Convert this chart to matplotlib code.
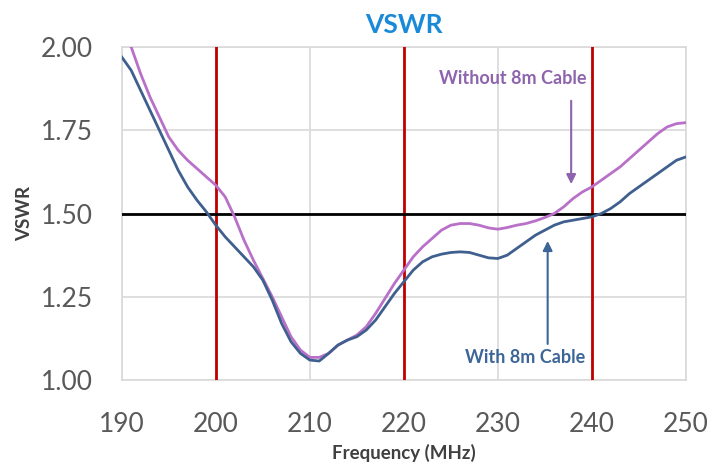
import matplotlib.pyplot as plt

# frequency axis (MHz)
freq = list(range(190, 251))

# VSWR with the 8 m cable (blue)
vswr_with = [1.97, 1.93, 1.87, 1.81, 1.75, 1.69, 1.63, 1.58, 1.54, 1.505,
             1.465, 1.43, 1.40, 1.37, 1.34, 1.30, 1.24, 1.17, 1.115, 1.08,
             1.06, 1.057, 1.08, 1.105, 1.12, 1.13, 1.15, 1.18, 1.22, 1.26,
             1.295, 1.33, 1.355, 1.37, 1.378, 1.383, 1.385, 1.383, 1.375, 1.367,
             1.365, 1.375, 1.395, 1.415, 1.435, 1.45, 1.465, 1.475, 1.48, 1.485,
             1.49, 1.50, 1.515, 1.535, 1.56, 1.58, 1.60, 1.62, 1.64, 1.66,
             1.67]

# VSWR without the 8 m cable (pink)
vswr_without = [2.03, 2.00, 1.92, 1.85, 1.79, 1.73, 1.69, 1.66, 1.635, 1.61,
                1.585, 1.55, 1.49, 1.42, 1.36, 1.305, 1.25, 1.19, 1.13, 1.09,
                1.068, 1.068, 1.08, 1.105, 1.12, 1.135, 1.16, 1.20, 1.245, 1.29,
                1.33, 1.37, 1.40, 1.425, 1.45, 1.465, 1.47, 1.47, 1.465, 1.457,
                1.453, 1.458, 1.465, 1.47, 1.478, 1.488, 1.50, 1.52, 1.545, 1.565,
                1.58, 1.60, 1.62, 1.64, 1.665, 1.69, 1.715, 1.74, 1.76, 1.77,
                1.773]

band_marks = [200, 220, 240]
vswr_limit = 1.5
xticks = [190, 200, 210, 220, 230, 240, 250]
yticks = [1.00, 1.25, 1.50, 1.75, 2.00]

plt.rcParams['font.family'] = ['Lato', 'DejaVu Sans']

fig = plt.figure(figsize=(7.25, 4.66), dpi=100)
ax = fig.add_axes([0.168, 0.1845, 0.778, 0.7145])

ax.plot(freq, vswr_without, color='#b870c8', lw=2, zorder=4)
ax.plot(freq, vswr_with, color='#3f5f8e', lw=2, zorder=5)

for f in band_marks:
    ax.axvline(f, color='#c00000', lw=2, zorder=3)
ax.axhline(vswr_limit, color='black', lw=2, zorder=3)

ax.set_xlim(190, 250)
ax.set_ylim(1.0, 2.0)
ax.set_xticks(xticks)
ax.set_yticks(yticks)
ax.set_yticklabels(['%.2f' % v for v in yticks])
ax.grid(True, color='#d9d9d9', lw=1.2, zorder=0)
ax.set_axisbelow(True)
for s in ax.spines.values():
    s.set_color('#d9d9d9')
    s.set_linewidth(1.2)
ax.tick_params(length=0, labelsize=19, colors='#595959')
ax.tick_params(axis='x', pad=23)
ax.tick_params(axis='y', pad=21)

ax.set_title('VSWR', color='#1a8ad8', fontsize=19, fontweight='bold', pad=10)
ax.set_xlabel('Frequency (MHz)', fontsize=13.5, fontweight='bold', color='#404040', labelpad=5)
ax.set_ylabel('VSWR', fontsize=13.5, fontweight='bold', color='#404040', labelpad=5)

# callouts
ax.annotate('', xy=(237.8, 1.58), xytext=(237.8, 1.847),
            arrowprops=dict(arrowstyle='-|>', color='#8e64ad', lw=1.5, mutation_scale=14))
ax.text(231.6, 1.905, 'Without 8m Cable', color='#8e64ad', fontsize=13,
        fontweight='bold', ha='center', va='center')
ax.annotate('', xy=(235.3, 1.426), xytext=(235.3, 1.10),
            arrowprops=dict(arrowstyle='-|>', color='#3d6698', lw=1.5, mutation_scale=14))
ax.text(232.9, 1.069, 'With 8m Cable', color='#3d6698', fontsize=13,
        fontweight='bold', ha='center', va='center')

fig.savefig('out.png', dpi=100)
